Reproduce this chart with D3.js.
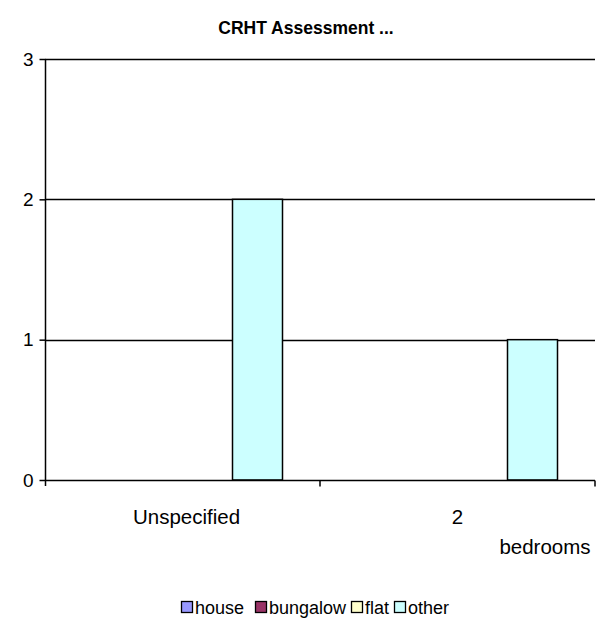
<!DOCTYPE html>
<html>
<head>
<meta charset="utf-8">
<script src="https://cdn.jsdelivr.net/npm/d3@7"></script>
<style>
  html, body { margin: 0; padding: 0; background: #fff; }
  svg { display: block; font-family: "Liberation Sans", Arial, sans-serif; }
</style>
</head>
<body>
<svg id="chart" width="597" height="625"></svg>
<script>
// Chart data
const title = "CRHT Assessment ...";
const categories = ["Unspecified", "2 bedrooms"];
const seriesNames = ["house", "bungalow", "flat", "other"];
const house = [0, 0];
const bungalow = [0, 0];
const flat = [0, 0];
const other = [2, 1];
const yTicks = [0, 1, 2, 3];
const seriesColors = ["#9999FF", "#993366", "#FFFFCC", "#CCFFFF"];

const seriesValues = [house, bungalow, flat, other];

const svg = d3.select("#chart");
const plotLeft = 45, plotRight = 595, plotTop = 59, plotBottom = 480;
const labelSize = 19;

const x = d3.scaleBand().domain(categories).range([plotLeft, plotRight]).paddingInner(0).paddingOuter(0);
const xs = d3.scaleBand().domain(seriesNames).range([0, x.bandwidth()]).paddingInner(0).paddingOuter(0.75);
const y = d3.scaleLinear().domain([0, 3]).range([plotBottom, plotTop]);

// Title
svg.append("text")
  .attr("x", 306).attr("y", 34)
  .attr("text-anchor", "middle")
  .attr("font-size", 17.5).attr("font-weight", "bold")
  .text(title);

// Horizontal gridlines
svg.append("g").selectAll("line")
  .data(yTicks.filter(d => d > 0))
  .join("line")
  .attr("x1", plotLeft).attr("x2", plotRight)
  .attr("y1", d => Math.round(y(d)) + 0.5).attr("y2", d => Math.round(y(d)) + 0.5)
  .attr("stroke", "#000").attr("stroke-width", 1.5);

// Bars
const barData = [];
seriesNames.forEach((s, si) => {
  categories.forEach((c, ci) => {
    const v = seriesValues[si][ci];
    if (v > 0) barData.push({ s, c, v, color: seriesColors[si] });
  });
});
svg.append("g").selectAll("rect")
  .data(barData)
  .join("rect")
  .attr("x", d => x(d.c) + xs(d.s))
  .attr("y", d => y(d.v))
  .attr("width", xs.bandwidth())
  .attr("height", d => y(0) - y(d.v))
  .attr("fill", d => d.color)
  .attr("stroke", "#000").attr("stroke-width", 1.5);

// Y axis
const yAxis = d3.axisLeft(y).tickValues(yTicks).tickSize(6).tickPadding(6).tickFormat(d3.format("d"));
const gy = svg.append("g").attr("transform", `translate(${plotLeft + 0.5},0)`).call(yAxis);
gy.select(".domain").attr("d", `M0,${plotTop}V${plotBottom + 6}`).attr("stroke-width", 1.5);
gy.selectAll(".tick line").attr("stroke-width", 1.5);
gy.selectAll(".tick text").attr("font-size", labelSize).attr("font-family", "Liberation Sans, Arial, sans-serif").attr("fill", "#000");

// X axis with ticks at category boundaries
const gx = svg.append("g").attr("transform", `translate(0,${plotBottom + 0.5})`);
gx.append("line").attr("x1", plotLeft).attr("x2", plotRight).attr("stroke", "#000").attr("stroke-width", 1.5);
gx.selectAll("line.tk")
  .data(categories.map(c => x(c) + x.bandwidth()))
  .join("line").attr("class", "tk")
  .attr("x1", d => d).attr("x2", d => d)
  .attr("y1", 0).attr("y2", 6)
  .attr("stroke", "#000").attr("stroke-width", 1.5);

// Category labels (second one wraps onto two lines)
const catSize = 20.5;
svg.append("text")
  .attr("x", x(categories[0]) + x.bandwidth() / 2 + 4).attr("y", 524)
  .attr("text-anchor", "middle").attr("font-size", catSize)
  .text(categories[0]);
const parts = categories[1].split(" ");
svg.append("text")
  .attr("x", x(categories[1]) + x.bandwidth() / 2).attr("y", 524)
  .attr("text-anchor", "middle").attr("font-size", catSize)
  .text(parts[0]);
svg.append("text")
  .attr("x", 545).attr("y", 554)
  .attr("text-anchor", "middle").attr("font-size", catSize)
  .text(parts[1]);

// Legend
const legendX = [181, 255, 351, 394];
const lg = svg.append("g").selectAll("g")
  .data(seriesNames)
  .join("g")
  .attr("transform", (d, i) => `translate(${legendX[i]},607)`);
lg.append("rect")
  .attr("x", 0.5).attr("y", -5.5).attr("width", 11).attr("height", 11)
  .attr("fill", (d, i) => seriesColors[i]).attr("stroke", "#000").attr("stroke-width", 1.3);
lg.append("text")
  .attr("x", 14).attr("y", 6.5)
  .attr("font-size", 18)
  .text(d => d);
</script>
</body>
</html>
